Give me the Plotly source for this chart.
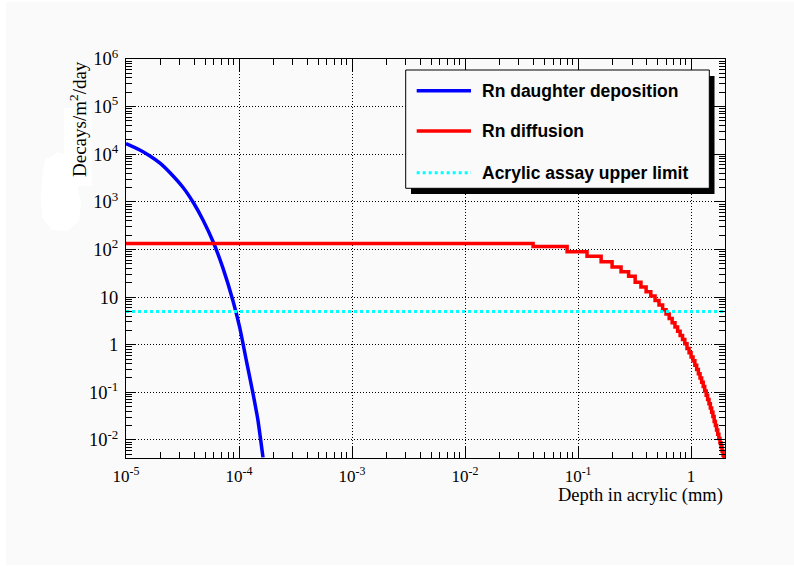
import plotly.graph_objects as go

# ---------------- data ----------------
# Rn daughter deposition (depth in mm, decays/m^2/day)
blue_x = [1.0e-5, 1.3e-5, 1.63e-5, 2.0e-5, 2.5e-5, 3.2e-5, 4.0e-5, 4.8e-5, 5.9e-5, 7.2e-5,
          8.85e-5, 1.014e-4, 1.16e-4, 1.33e-4, 1.47e-4, 1.63e-4]
blue_y = [1.68e4, 1.26e4, 9.2e3, 6.5e3, 3.9e3, 2.0e3, 912, 417, 145, 41,
          8.3, 2.3, 0.47, 0.094, 0.026, 0.0043]

# Rn diffusion: histogram (bin upper edges in mm) and bin contents
red_edges = [1e-5, 0.04, 0.08, 0.12, 0.16, 0.20, 0.24, 0.28, 0.32, 0.36, 0.40,
             0.44, 0.48, 0.52, 0.56, 0.60, 0.64, 0.68, 0.72, 0.76, 0.80,
             0.84, 0.88, 0.92, 0.96, 1.00, 1.04, 1.08, 1.12, 1.16, 1.20,
             1.24, 1.28, 1.32, 1.36, 1.40, 1.44, 1.48, 1.52, 1.56, 1.60,
             1.64, 1.68, 1.72, 1.76, 1.80, 1.84, 1.88, 1.92, 1.96, 2.00]
red_vals = [133, 115, 89, 72, 55, 43, 34, 27.5, 20.4, 16.2,
            12.9, 10.5, 8.5, 6.8, 5.4, 4.4, 3.55, 2.88, 2.34, 1.91,
            1.55, 1.29, 1.05, 0.83, 0.68, 0.55, 0.457, 0.372, 0.302, 0.245,
            0.200, 0.162, 0.132, 0.107, 0.087, 0.071, 0.0575, 0.0468, 0.038, 0.0309,
            0.0245, 0.020, 0.0162, 0.0132, 0.0107, 0.0087, 0.0071, 0.0058, 0.0047, 0.0038]

# Acrylic assay upper limit
cyan_x = [1e-5, 2.0]
cyan_y = [5.0, 5.0]

legend_labels = ["Rn daughter deposition", "Rn diffusion", "Acrylic assay upper limit"]
x_tickvals = [1e-5, 1e-4, 1e-3, 1e-2, 1e-1, 1]
x_ticktext = ["10<sup>-5</sup>", "10<sup>-4</sup>", "10<sup>-3</sup>", "10<sup>-2</sup>", "10<sup>-1</sup>", "1"]
y_tickvals = [1e-2, 1e-1, 1, 10, 1e2, 1e3, 1e4, 1e5, 1e6]
y_ticktext = ["10<sup>-2</sup>", "10<sup>-1</sup>", "1", "10", "10<sup>2</sup>", "10<sup>3</sup>",
              "10<sup>4</sup>", "10<sup>5</sup>", "10<sup>6</sup>"]
x_title = "Depth in acrylic (mm)"
y_title = "Decays/m<sup>2</sup>/day"

# ---------------- layout geometry ----------------
L, T, PW, PH = 126, 59, 599, 399
B = T + PH
BG = "#fafafa"


def px(x):
    return (x - L) / PW


def py(y):
    return (B - y) / PH


fig = go.Figure()
fig.add_trace(go.Scatter(x=blue_x, y=blue_y, mode="lines",
                         line=dict(color="#0000ff", width=3.5, shape="spline", smoothing=0.4),
                         name=legend_labels[0], showlegend=False))
red_y = red_vals + [red_vals[-1]]
fig.add_trace(go.Scatter(x=red_edges, y=red_y, mode="lines", line=dict(color="#ff0000", width=3.5, shape="hv"),
                         name=legend_labels[1], showlegend=False))
fig.add_trace(go.Scatter(x=cyan_x, y=cyan_y, mode="lines", line=dict(color="#00ffff", width=3, dash="dot"),
                         name=legend_labels[2], showlegend=False))

minor_vals = [m * 10 ** e for e in range(-6, 7) for m in range(2, 10)]

axis_common = dict(type="log", showline=True, linecolor="black", linewidth=1, mirror="allticks",
                   ticks="inside", tickcolor="black", tickwidth=1,
                   showgrid=True, gridcolor="black", gridwidth=1, griddash="1px,2px",
                   zeroline=False, tickmode="array")

fig.update_xaxes(**axis_common, range=[-5, 0.3], tickvals=x_tickvals, ticktext=x_ticktext, ticklen=12,
                 tickfont=dict(family="Liberation Serif", size=17, color="black"), ticklabelstandoff=3,
                 minor=dict(tickmode="array", tickvals=minor_vals, ticks="inside", ticklen=6,
                            tickcolor="black", showgrid=False))
fig.update_yaxes(**axis_common, range=[-2.38, 6], tickvals=y_tickvals, ticktext=y_ticktext, ticklen=10,
                 tickfont=dict(family="Liberation Serif", size=18.5, color="black"), ticklabelstandoff=3,
                 minor=dict(tickmode="array", tickvals=minor_vals, ticks="inside", ticklen=6,
                            tickcolor="black", showgrid=False))

shapes = []
# page edges (white strips)
shapes.append(dict(type="rect", xref="paper", yref="paper", x0=px(0), x1=px(6), y0=py(566), y1=py(0),
                   fillcolor="white", line=dict(width=0), layer="below"))
shapes.append(dict(type="rect", xref="paper", yref="paper", x0=px(0), x1=px(794), y0=py(2), y1=py(0),
                   fillcolor="white", line=dict(width=0), layer="below"))
shapes.append(dict(type="rect", xref="paper", yref="paper", x0=px(0), x1=px(794), y0=py(566), y1=py(565),
                   fillcolor="white", line=dict(width=0), layer="below"))
# white blob left of axis title
blob = [(45, 160), (58, 152), (70, 156), (77, 170), (78, 188), (81, 205), (79, 221), (68, 231),
        (52, 230), (42, 218), (41, 198), (42, 178)]
path = "M " + " L ".join(f"{px(a):.5f},{py(b):.5f}" for a, b in blob) + " Z"
shapes.append(dict(type="path", xref="paper", yref="paper", path=path, fillcolor="white",
                   line=dict(width=0), layer="below"))
shapes.append(dict(type="rect", xref="paper", yref="paper", x0=px(64), x1=px(92), y0=py(186), y1=py(108),
                   fillcolor="white", line=dict(width=0), layer="below"))

# legend shadow + box
shapes.append(dict(type="rect", xref="paper", yref="paper", x0=px(411), x1=px(714.5), y0=py(194), y1=py(76),
                   fillcolor="black", line=dict(width=0)))
shapes.append(dict(type="rect", xref="paper", yref="paper", x0=px(405.7), x1=px(709.3), y0=py(188.3), y1=py(70),
                   fillcolor=BG, line=dict(color="black", width=1)))
legend_rows = [90.7, 131, 172.7]
legend_styles = [dict(color="#0000ff", width=3.5), dict(color="#ff0000", width=3.5),
                 dict(color="#00ffff", width=3, dash="dot")]
annotations = []
for lab, yy, st in zip(legend_labels, legend_rows, legend_styles):
    shapes.append(dict(type="line", xref="paper", yref="paper", x0=px(416.7), x1=px(471), y0=py(yy), y1=py(yy),
                       line=st))
    annotations.append(dict(text=lab, xref="paper", yref="paper", x=px(480), y=py(yy), xanchor="left",
                            yanchor="middle", showarrow=False,
                            font=dict(family="Liberation Sans", size=17.5, color="black", weight="bold")))

annotations.append(dict(text=x_title, xref="paper", yref="paper", x=px(725), y=py(495.5), xanchor="right",
                        yanchor="middle", showarrow=False,
                        font=dict(family="Liberation Serif", size=18.5, color="black")))
annotations.append(dict(text=y_title, xref="paper", yref="paper", x=px(78), y=py(59), xanchor="center",
                        yanchor="top", textangle=-90, showarrow=False,
                        font=dict(family="Liberation Serif", size=19, color="black")))

fig.update_layout(width=794, height=566, autosize=False,
                  margin=dict(l=L, r=794 - L - PW, t=T, b=566 - B, pad=0),
                  paper_bgcolor=BG, plot_bgcolor=BG, showlegend=False,
                  shapes=shapes, annotations=annotations)

fig.write_html("out.html", config={"displayModeBar": False})
